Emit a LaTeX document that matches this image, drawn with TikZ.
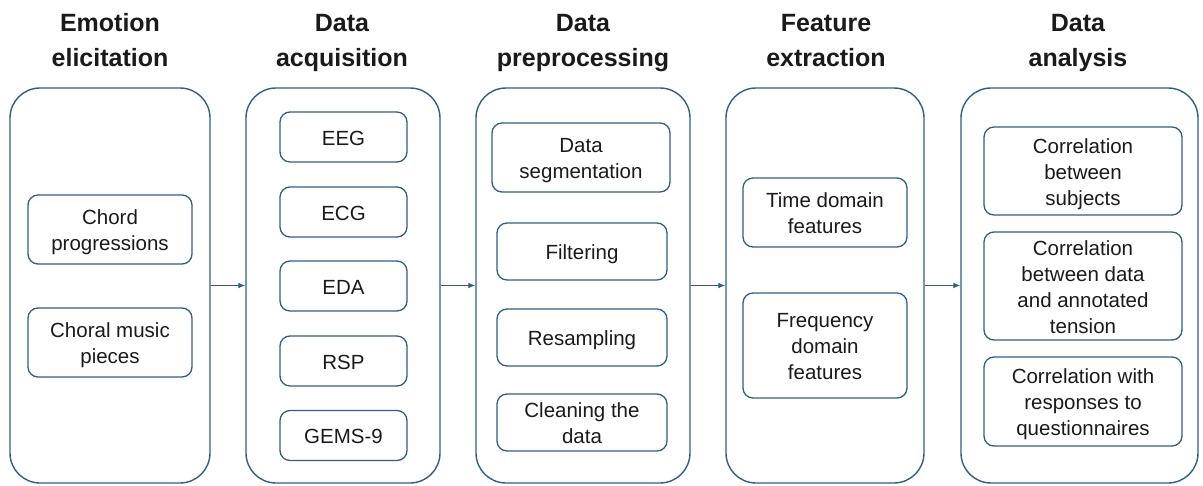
\documentclass[tikz,border=0pt]{standalone}
\usepackage{fontspec}
\setmainfont{Liberation Sans}
\usepackage{xcolor}
\usepackage{tikz}
\usetikzlibrary{arrows.meta,positioning}
\definecolor{frame}{HTML}{2F5D87}
\definecolor{ink}{HTML}{1A1A1A}

\tikzset{
    stagebox/.style={rectangle, draw=frame, line width=1.4pt, rounded corners=30pt, minimum height=395pt, inner sep=0pt},
    itembox/.style={rectangle, draw=frame, line width=1.3pt, rounded corners=10pt, inner sep=0pt, align=center, text=ink,
        font=\fontsize{20.5}{26}\selectfont, text height=21.3pt, text depth=4.7pt},
    twolines/.style={text height=47.3pt},
    threelines/.style={text height=73.3pt},
    fourlines/.style={text height=99.3pt},
    title/.style={align=center, text=ink, inner sep=0pt,
        font=\fontsize{25}{35}\selectfont\bfseries, text height=61pt, text depth=8pt},
    flow/.style={-{Latex[length=7pt,width=6pt]}, draw=frame, line width=1.3pt}
}

\begin{document}
\begin{tikzpicture}[x=1pt, y=-1pt]
    \useasboundingbox (0,0) rectangle (1203,485);

    % titles
    \node[title] (t1) at (110,39.5) {Emotion\\elicitation};
    \node[title] (t2) at (342,39.5) {Data\\acquisition};
    \node[title] (t3) at (583,39.5) {Data\\preprocessing};
    \node[title] (t4) at (826,39.5) {Feature\\extraction};
    \node[title] (t5) at (1078,39.5) {Data\\analysis};

    % stages
    \node[stagebox, minimum width=200pt] (elicit) at (110,285.5) {};
    \node[stagebox, minimum width=194pt] (acquire) at (343,285.5) {};
    \node[stagebox, minimum width=214pt] (prep) at (583,285.5) {};
    \node[stagebox, minimum width=198pt] (feat) at (825,285.5) {};
    \node[stagebox, minimum width=237pt] (analysis) at (1079.5,285.5) {};

    % emotion elicitation
    \node[itembox, twolines, minimum width=164pt, minimum height=69pt] (chord) at (110,229.5) {Chord\\progressions};
    \node[itembox, twolines, minimum width=164pt, minimum height=69pt] (choral) at (110,342.5) {Choral music\\pieces};

    % data acquisition
    \node[itembox, minimum width=127pt, minimum height=50pt] (eeg) at (343.5,137) {EEG};
    \node[itembox, minimum width=127pt, minimum height=50pt] (ecg) at (343.5,212) {ECG};
    \node[itembox, minimum width=127pt, minimum height=50pt] (eda) at (343.5,286) {EDA};
    \node[itembox, minimum width=127pt, minimum height=50pt] (rsp) at (343.5,361) {RSP};
    \node[itembox, minimum width=127pt, minimum height=50pt] (gems) at (343.5,435.5) {GEMS-9};

    % data preprocessing
    \node[itembox, twolines, minimum width=178pt, minimum height=69pt] (segment) at (581,157.5) {Data\\segmentation};
    \node[itembox, minimum width=170pt, minimum height=57pt] (filter) at (582,251.5) {Filtering};
    \node[itembox, minimum width=170pt, minimum height=57pt] (resample) at (582,337.5) {Resampling};
    \node[itembox, twolines, minimum width=170pt, minimum height=57pt] (clean) at (582,422.5) {Cleaning the\\data};

    % feature extraction
    \node[itembox, twolines, minimum width=164pt, minimum height=69pt] (timefeat) at (825,212.5) {Time domain\\features};
    \node[itembox, threelines, minimum width=164pt, minimum height=105pt] (freqfeat) at (825,345.5) {Frequency\\domain\\features};

    % data analysis
    \node[itembox, threelines, minimum width=198pt, minimum height=88pt] (corrsub) at (1083,171) {Correlation\\between\\subjects};
    \node[itembox, fourlines, minimum width=198pt, minimum height=108pt] (corrten) at (1083,286) {Correlation\\between data\\and annotated\\tension};
    \node[itembox, threelines, minimum width=198pt, minimum height=89pt] (corrq) at (1083,401.5) {Correlation with\\responses to\\questionnaires};

    % flow between stages
    \draw[flow] (elicit.east) -- (acquire.west);
    \draw[flow] (acquire.east) -- (prep.west);
    \draw[flow] (prep.east) -- (feat.west);
    \draw[flow] (feat.east) -- (analysis.west);
\end{tikzpicture}
\end{document}
